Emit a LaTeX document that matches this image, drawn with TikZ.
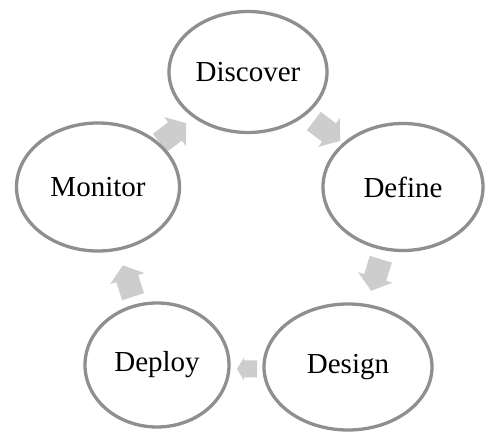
\documentclass[tikz,border=0pt]{standalone}
\usepackage{fontspec}
\setmainfont{Liberation Serif}
\usetikzlibrary{shapes.geometric}
\definecolor{ringgray}{HTML}{8F8F8F}
\definecolor{arrowgray}{HTML}{CDCDCD}
\tikzset{
  phase/.style={ellipse, draw=ringgray, line width=3.3pt, fill=white, inner sep=0pt,
    font=\fontsize{29}{32}\selectfont, text=black},
}
% \cycarrow{x}{y}{angle}{length}{head length}{head half-width}{shaft half-width}
\newcommand{\cycarrow}[7]{%
  \begin{scope}[shift={(#1,#2)}, rotate=#3]
    \fill[arrowgray] (-#4/2,-#7) -- (#4/2-#5,-#7) -- (#4/2-#5,-#6) -- (#4/2,0)
      -- (#4/2-#5,#6) -- (#4/2-#5,#7) -- (-#4/2,#7) -- cycle;
  \end{scope}}
\begin{document}
\begin{tikzpicture}[x=1pt,y=1pt]
\useasboundingbox (0,0) rectangle (485,433);
\fill[white] (0,0) rectangle (485,433);
% arrows
\cycarrow{173}{300}{37}{33}{14}{18}{11.5}
\cycarrow{327}{302}{-37}{33}{14}{18}{11.5}
\cycarrow{376}{158}{-107}{33}{14}{18}{11.5}
\cycarrow{247}{64}{180}{20}{7}{11.5}{8.5}
\cycarrow{128}{152}{108}{33}{14}{18}{11.5}
% phases
\node[phase, minimum width=158pt, minimum height=121pt] (discover) at (248,361) {Discover};
\node[phase, minimum width=160pt, minimum height=127pt] (define) at (403,246) {Define};
\node[phase, minimum width=168pt, minimum height=126pt] (design) at (348,66) {Design};
\node[phase, minimum width=144pt, minimum height=124pt] (deploy) at (157,68) {Deploy};
\node[phase, minimum width=163pt, minimum height=128pt] (monitor) at (98,246) {Monitor};
\end{tikzpicture}
\end{document}
